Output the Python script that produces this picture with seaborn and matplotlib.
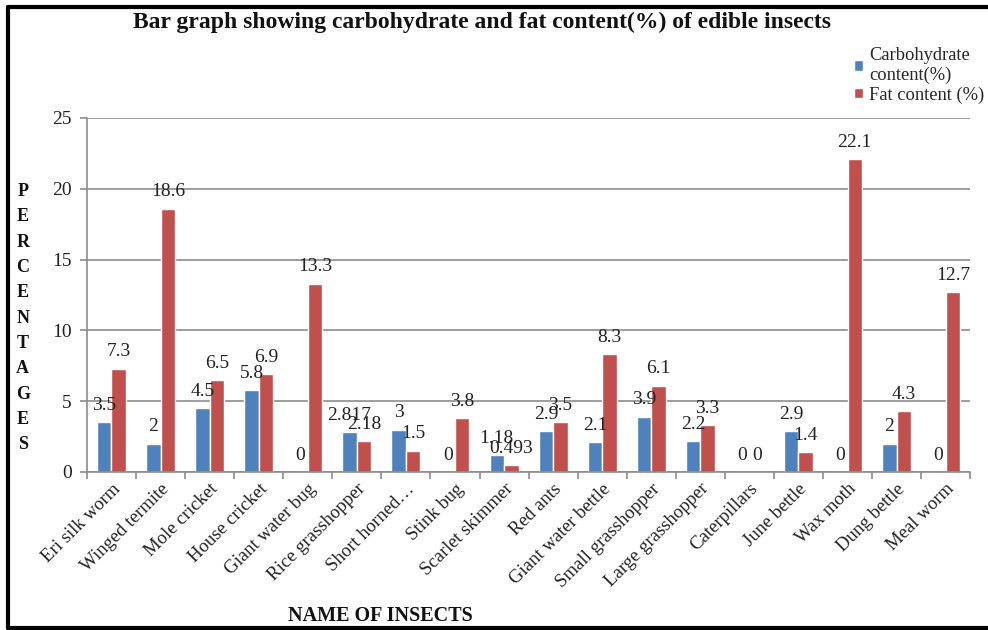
import matplotlib
matplotlib.use("Agg")
import matplotlib.pyplot as plt
from matplotlib.lines import Line2D
import seaborn as sns
import pandas as pd

insects = ["Eri silk worm", "Winged termite", "Mole cricket", "House cricket",
           "Giant water bug", "Rice grasshopper", "Short horned…", "Stink bug",
           "Scarlet skimmer", "Red ants", "Giant water bettle", "Small grasshopper",
           "Large grasshopper", "Caterpillars", "June bettle", "Wax moth",
           "Dung bettle", "Meal worm"]
carbohydrate = [3.5, 2, 4.5, 5.8, 0, 2.817, 3, 0, 1.18, 2.9, 2.1, 3.9, 2.2, 0, 2.9, 0, 2, 0]
fat = [7.3, 18.6, 6.5, 6.9, 13.3, 2.18, 1.5, 3.8, 0.493, 3.5, 8.3, 6.1, 3.3, 0, 1.4, 22.1, 4.3, 12.7]
series_names = ["Carbohydrate\ncontent(%)", "Fat content (%)"]
y_ticks = [0, 5, 10, 15, 20, 25]

df = pd.DataFrame({
    "insect": insects * 2,
    "value": carbohydrate + fat,
    "series": [series_names[0]] * len(insects) + [series_names[1]] * len(insects),
})

sns.set_theme(style="white")
plt.rcParams["font.family"] = ["Liberation Serif", "DejaVu Serif"]

fig = plt.figure(figsize=(9.88, 6.30), dpi=100)
ax = fig.add_axes([0.088, 0.2508, 0.894, 0.5619])

palette = {series_names[0]: "#4F81BD", series_names[1]: "#C0504D"}
sns.barplot(data=df, x="insect", y="value", hue="series", palette=palette,
            width=0.59, gap=0, saturation=1, ax=ax, errorbar=None)

# value labels on each bar
for cont, vals in zip(ax.containers, [carbohydrate, fat]):
    ax.bar_label(cont, labels=[f"{v:g}" for v in vals], padding=6,
                 fontsize=14, color="#222222")

ax.set_xlim(-0.5, len(insects) - 0.5)
ax.set_ylim(0, 25)
ax.set_yticks(y_ticks)
ax.set_yticklabels([str(t) for t in y_ticks], fontsize=14, color="#222222")
ax.yaxis.grid(True, color="#8c8c8c", linewidth=1.2)
ax.set_axisbelow(True)

# category labels at centres, tick marks at boundaries
ax.set_xticks(range(len(insects)))
ax.set_xticklabels(insects, rotation=45, ha="right", rotation_mode="anchor",
                   fontsize=13.5, color="#222222")
ax.tick_params(axis="x", which="major", length=0, pad=6)
ax.set_xticks([i - 0.5 for i in range(len(insects) + 1)], minor=True)
ax.tick_params(axis="x", which="minor", length=5, color="#8c8c8c", width=1.2,
               direction="out", bottom=True)
ax.tick_params(axis="y", length=5, color="#8c8c8c", width=1.2, direction="out",
               left=True, pad=6)

for side in ["top", "right"]:
    ax.spines[side].set_visible(False)
for side in ["left", "bottom"]:
    ax.spines[side].set_color("#8c8c8c")
    ax.spines[side].set_linewidth(1.2)

ax.set_xlabel("")
ax.set_ylabel("")

handles, labels = ax.get_legend_handles_labels()
ax.legend_.remove()
fig.legend(handles, labels, loc="upper left", bbox_to_anchor=(0.855, 0.94),
           frameon=False, handlelength=0.5, handleheight=0.5,
           handletextpad=0.3, labelspacing=0.12, borderpad=0,
           prop={"size": 13.3})

fig.text(0.488, 0.964, "Bar graph showing carbohydrate and fat content(%) of edible insects",
         ha="center", va="center", fontsize=17, fontweight="bold", color="#111111")
fig.text(0.385, 0.022, "NAME OF INSECTS", ha="center", va="center",
         fontsize=14.5, fontweight="bold", color="#111111")
fig.text(0.023, 0.495, "\n".join("PERCENTAGES"), ha="center", va="center",
         fontsize=13, fontweight="bold", linespacing=1.64, color="#111111")

# outer frame
frame_kw = dict(color="black", linewidth=3, transform=fig.transFigure)
fig.add_artist(Line2D([0.008, 1.0], [0.989, 0.989], **frame_kw))
fig.add_artist(Line2D([0.008, 0.008], [0.003, 0.989], **frame_kw))
fig.add_artist(Line2D([0.008, 1.0], [0.003, 0.003], **frame_kw))

fig.savefig("out.png", dpi=100)
